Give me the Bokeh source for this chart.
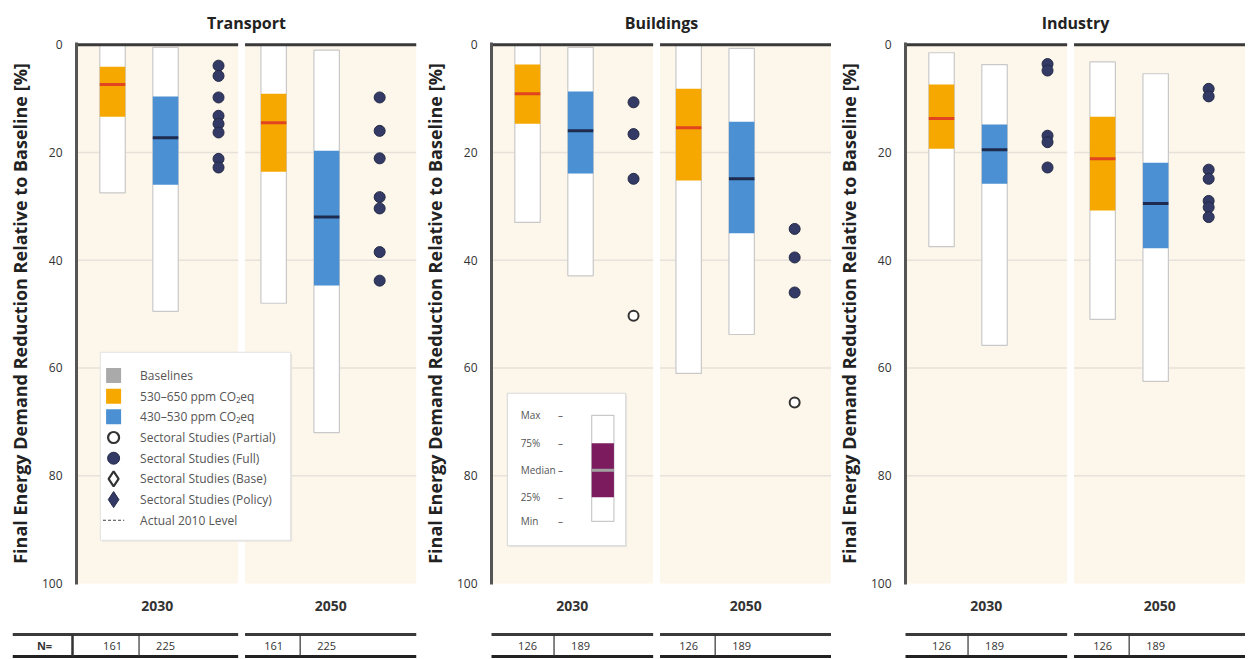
import numpy as np
from bokeh.plotting import figure
from bokeh.layouts import row, column
from bokeh.models import ColumnDataSource, Range1d, FixedTicker
from bokeh.core.properties import value
from bokeh.embed import file_html
from bokeh.resources import INLINE

# ---------------- data ----------------
sectors = ["Transport", "Buildings", "Industry"]
years = ["2030", "2050"]
y_ticks = [0, 20, 40, 60, 80, 100]
n_530_650 = [161, 126, 126]
n_430_530 = [225, 189, 189]

# order: Transport 2030, Transport 2050, Buildings 2030, Buildings 2050, Industry 2030, Industry 2050
s530_min = [0.0, 0.0, 0.0, 0.0, 1.5, 3.2]
s530_q25 = [4.1, 9.1, 3.7, 8.2, 7.4, 13.4]
s530_med = [7.4, 14.5, 9.1, 15.4, 13.7, 21.2]
s530_q75 = [13.4, 23.6, 14.7, 25.2, 19.3, 30.8]
s530_max = [27.5, 48.0, 33.0, 61.0, 37.5, 51.0]

s430_min = [0.5, 1.0, 0.5, 0.7, 3.7, 5.4]
s430_q25 = [9.6, 19.7, 8.7, 14.3, 14.8, 21.9]
s430_med = [17.3, 32.0, 16.0, 24.9, 19.5, 29.5]
s430_q75 = [26.0, 44.7, 23.9, 35.0, 25.8, 37.8]
s430_max = [49.5, 72.0, 42.9, 53.8, 55.8, 62.5]

full_transport_2030 = [3.9, 5.8, 9.8, 13.2, 14.7, 16.3, 21.2, 22.8]
full_transport_2050 = [9.8, 16.0, 21.1, 28.3, 30.4, 38.5, 43.8]
full_buildings_2030 = [10.7, 16.6, 24.9]
full_buildings_2050 = [34.2, 39.5, 46.0]
full_industry_2030 = [3.6, 4.8, 16.9, 18.1, 22.8]
full_industry_2050 = [8.2, 9.6, 23.2, 24.9, 29.0, 30.2, 32.0]
partial_buildings_2030 = [50.3]
partial_buildings_2050 = [66.4]

full_studies = [full_transport_2030, full_transport_2050, full_buildings_2030,
                full_buildings_2050, full_industry_2030, full_industry_2050]
partial_studies = [[], [], partial_buildings_2030, partial_buildings_2050, [], []]

key_labels = ["Max", "75%", "Median", "25%", "Min"]
key_values = [68.8, 74.0, 79.0, 84.0, 88.5]

legend_labels = ["Baselines", "530–650 ppm CO₂eq", "430–530 ppm CO₂eq",
                 "Sectoral Studies (Partial)", "Sectoral Studies (Full)",
                 "Sectoral Studies (Base)", "Sectoral Studies (Policy)", "Actual 2010 Level"]

# ---------------- style / layout ----------------
FONT = "Open Sans"
CREAM = "#fdf6ea"
ORANGE = "#f6a800"
ORANGE_MED = "#e0451f"
BLUE = "#4a90d2"
BLUE_MED = "#1e2a4e"
NAVY = "#343a66"
NAVY_LINE = "#222a44"
BOX_LINE = "#c9c9c9"
GRID = "#e6e1da"
PURPLE = "#7d1b5f"
DARK = "#3a3a3a"

FRAME_W = 340
PPU = 53.0
XMAX = FRAME_W / PPU
PANELS = [(0.0, 3.05), (3.18, XMAX)]
LEAD = [0.68, 0.54]
BOX_W = 0.48
TOP_B = 42
FRAME_H = 542
MAIN_H = 620
TABLE_H = 38
EXT_PX = 64
borders = [(76, 1), (74, 0), (74, 0)]


def pos(g, k):
    return PANELS[g][0] + LEAD[g] + k


def make_main(si):
    lb, rb = borders[si]
    p = figure(width=lb + FRAME_W + rb, height=MAIN_H, x_range=Range1d(0, XMAX),
               y_range=Range1d(100.2, -0.4), output_backend="svg", toolbar_location=None,
               min_border_left=lb, min_border_right=rb, min_border_top=TOP_B,
               min_border_bottom=MAIN_H - TOP_B - FRAME_H, title=sectors[si])
    p.title.align = "center"
    p.title.text_font = FONT
    p.title.text_font_size = "16px"
    p.title.text_font_style = "bold"
    p.title.text_color = "#222222"
    p.title.standoff = 18
    p.outline_line_color = None
    p.background_fill_color = "white"
    p.xgrid.visible = False
    p.ygrid.visible = False

    # panel backgrounds
    p.quad(left=[a for a, b in PANELS], right=[b for a, b in PANELS], top=[0, 0],
           bottom=[100, 100], fill_color=CREAM, line_color=None)
    # gridlines
    gx0, gx1, gy = [], [], []
    for a, b in PANELS:
        for t in y_ticks[1:-1]:
            gx0.append(a); gx1.append(b); gy.append(t)
    p.segment(x0=gx0, x1=gx1, y0=gy, y1=gy, line_color=GRID, line_width=1.5)

    # boxes
    bx, bmin, bq25, bmed, bq75, bmax, fc, mc = [], [], [], [], [], [], [], []
    for g in range(2):
        i = si * 2 + g
        for k, (mn, q1, md, q3, mx, c, m) in enumerate([
                (s530_min, s530_q25, s530_med, s530_q75, s530_max, ORANGE, ORANGE_MED),
                (s430_min, s430_q25, s430_med, s430_q75, s430_max, BLUE, BLUE_MED)]):
            bx.append(pos(g, k)); bmin.append(mn[i]); bq25.append(q1[i]); bmed.append(md[i])
            bq75.append(q3[i]); bmax.append(mx[i]); fc.append(c); mc.append(m)
    src = ColumnDataSource(dict(x=bx, left=[v - BOX_W / 2 for v in bx], right=[v + BOX_W / 2 for v in bx],
                                mn=bmin, q1=bq25, md=bmed, q3=bq75, mx=bmax, fc=fc, mc=mc))
    p.quad(left="left", right="right", top="mn", bottom="mx", source=src,
           fill_color="white", line_color=BOX_LINE, line_width=1.2)
    p.quad(left="left", right="right", top="q1", bottom="q3", source=src,
           fill_color="fc", line_color=None)
    p.segment(x0="left", x1="right", y0="md", y1="md", source=src, line_color="mc", line_width=3)

    # studies
    fx, fy, px_, py_ = [], [], [], []
    for g in range(2):
        i = si * 2 + g
        for v in full_studies[i]:
            fx.append(pos(g, 2)); fy.append(v)
        for v in partial_studies[i]:
            px_.append(pos(g, 2)); py_.append(v)
    p.scatter(x=fx, y=fy, size=11, marker="circle", fill_color=NAVY, line_color=NAVY_LINE, line_width=1)
    p.scatter(x=px_, y=py_, size=10, marker="circle", fill_color="white", line_color="#333333", line_width=2)

    # top lines
    p.segment(x0=[a for a, b in PANELS], x1=[b for a, b in PANELS], y0=[0, 0], y1=[0, 0],
              line_color=DARK, line_width=3)

    # axes
    p.yaxis.ticker = FixedTicker(ticks=y_ticks)
    p.yaxis.major_tick_line_color = None
    p.yaxis.minor_tick_line_color = None
    p.yaxis.axis_line_width = 3
    p.yaxis.axis_line_color = "#555555"
    p.yaxis.major_label_text_font = FONT
    p.yaxis.major_label_text_font_size = "12px"
    p.yaxis.major_label_text_color = "#333333"
    p.yaxis.major_label_standoff = 8
    p.yaxis.axis_label = "Final Energy Demand Reduction Relative to Baseline [%]"
    p.yaxis.axis_label_text_font = FONT
    p.yaxis.axis_label_text_font_size = "18px"
    p.yaxis.axis_label_text_font_style = "bold"
    p.yaxis.axis_label_text_color = "#222222"
    p.yaxis.axis_label_standoff = 7

    centers = [(a + b) / 2 for a, b in PANELS]
    p.xaxis.ticker = FixedTicker(ticks=centers)
    p.xaxis.major_label_overrides = {centers[0]: years[0], centers[1]: years[1]}
    p.xaxis.axis_line_color = None
    p.xaxis.major_tick_line_color = None
    p.xaxis.minor_tick_line_color = None
    p.xaxis.major_label_text_font = FONT
    p.xaxis.major_label_text_font_size = "14px"
    p.xaxis.major_label_text_font_style = "bold"
    p.xaxis.major_label_text_color = "#333333"
    p.xaxis.major_label_standoff = 10

    if si == 0:
        # legend box drawn inside the plot area
        n = len(legend_labels)
        ly0, lstep = 61.4, 3.84
        ly = [ly0 + lstep * j for j in range(n)]
        lx_l, lx_r = 0.45, 4.04
        p.quad(left=[lx_l + 0.03], right=[lx_r + 0.03], top=[ly[0] - 4.0], bottom=[ly[-1] + 4.0],
               fill_color="#e9e6e1", line_color=None)
        p.quad(left=[lx_l], right=[lx_r], top=[ly[0] - 4.3], bottom=[ly[-1] + 3.7],
               fill_color="white", line_color="#e2e2e2", line_width=1)
        gx = 0.7
        p.scatter(x=[gx] * 3, y=ly[0:3], marker="square", size=15,
                  fill_color=["#aaaaaa", ORANGE, BLUE], line_color=None)
        p.scatter(x=[gx], y=[ly[3]], marker="circle", size=11, fill_color="white",
                  line_color="#333333", line_width=2.2)
        p.scatter(x=[gx], y=[ly[4]], marker="circle", size=12, fill_color=NAVY, line_color=NAVY_LINE)
        p.scatter(x=[gx], y=[ly[5]], marker="diamond", size=15, fill_color="white",
                  line_color="#333333", line_width=2.2)
        p.scatter(x=[gx], y=[ly[6]], marker="diamond", size=16, fill_color=NAVY, line_color=NAVY_LINE)
        p.segment(x0=[gx - 0.2], x1=[gx + 0.2], y0=[ly[7]], y1=[ly[7]], line_color="#444444",
                  line_dash="3 2", line_width=1)
        p.text(x=[1.2] * n, y=ly, text=legend_labels, text_font=value(FONT), text_font_size="12px",
               text_color="#555555", text_align="left", text_baseline="middle")

    if si == 1:
        ktop = key_values[0] - 4.1
        kbot = key_values[-1] + 4.5
        p.quad(left=[0.33], right=[2.56], top=[ktop + 0.3], bottom=[kbot + 0.3], fill_color="#e9e6e1",
               line_color=None)
        p.quad(left=[0.3], right=[2.53], top=[ktop], bottom=[kbot], fill_color="white",
               line_color="#dcdcdc", line_width=1.2)
        p.text(x=[0.55] * len(key_labels), y=key_values, text=key_labels, text_font=value(FONT),
               text_font_size="10px", text_color="#555555", text_align="left", text_baseline="middle")
        p.text(x=[1.3] * len(key_labels), y=key_values, text=["–"] * len(key_labels), text_font=value(FONT),
               text_font_size="10px", text_color="#555555", text_align="center", text_baseline="middle")
        kc, kw = 2.1, 0.42
        p.quad(left=[kc - kw / 2], right=[kc + kw / 2], top=[key_values[0]], bottom=[key_values[-1]],
               fill_color="white", line_color=BOX_LINE, line_width=1.2)
        p.quad(left=[kc - kw / 2], right=[kc + kw / 2], top=[key_values[1]], bottom=[key_values[3]],
               fill_color=PURPLE, line_color=None)
        p.segment(x0=[kc - kw / 2], x1=[kc + kw / 2], y0=[key_values[2]], y1=[key_values[2]],
                  line_color="#a0a0a0", line_width=3)
    return p


def make_table(si):
    lb, rb = borders[si]
    ext = EXT_PX / PPU
    # top line 14px below top, bottom line 2px above bottom
    per = float(TABLE_H - 16)
    ys = -2 / per
    t = figure(width=lb + FRAME_W + rb, height=TABLE_H, x_range=Range1d(-ext, XMAX),
               y_range=Range1d(ys, ys + TABLE_H / per), output_backend="svg", toolbar_location=None,
               min_border_left=lb - EXT_PX, min_border_right=rb, min_border_top=0, min_border_bottom=0,
               x_axis_location=None, y_axis_location=None)
    t.outline_line_color = None
    t.xgrid.visible = False
    t.ygrid.visible = False
    lefts = [a for a, b in PANELS]
    if si == 0:
        lefts[0] = -ext
    rights = [b for a, b in PANELS]
    t.segment(x0=lefts, x1=rights, y0=[1, 1], y1=[1, 1], line_color=DARK, line_width=3)
    t.segment(x0=lefts, x1=rights, y0=[0, 0], y1=[0, 0], line_color="#222222", line_width=3)
    sx = [pos(g, 0.5) for g in range(2)]
    t.segment(x0=sx, x1=sx, y0=[0, 0], y1=[1, 1], line_color="#333333", line_width=1.2)
    tx, tt = [], []
    for g in range(2):
        tx += [pos(g, 0), pos(g, 1)]
        tt += [str(n_530_650[si]), str(n_430_530[si])]
    t.text(x=tx, y=[0.5] * len(tx), text=tt, text_font=value(FONT), text_font_size="11px",
           text_color="#333333", text_align="center", text_baseline="middle")
    if si == 0:
        t.segment(x0=[-4 / PPU], x1=[-4 / PPU], y0=[0], y1=[1], line_color="#333333", line_width=2.5)
        t.text(x=[-ext / 2], y=[0.5], text=["N="], text_font=value(FONT), text_font_size="11px",
               text_font_style="bold", text_color="#333333", text_align="center", text_baseline="middle")
    return t


layout = column(row(*[make_main(i) for i in range(3)]), row(*[make_table(i) for i in range(3)]))
open("out.html", "w").write(file_html(layout, INLINE))
